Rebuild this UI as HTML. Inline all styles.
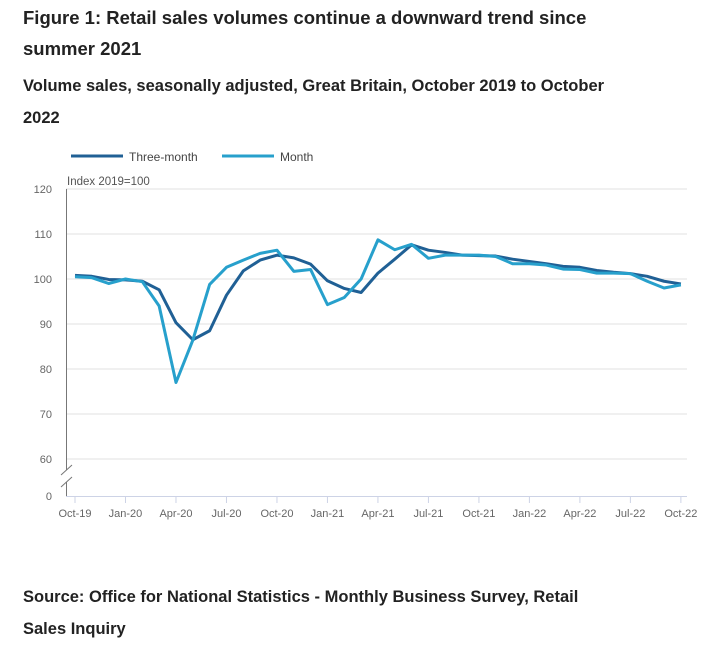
<!DOCTYPE html>
<html><head><meta charset="utf-8"><style>
body{margin:0;background:#fff;font-family:"Liberation Sans",sans-serif;color:#222;}
.t{position:absolute;left:23px;font-weight:bold;margin:0;}
</style></head><body>
<div style="position:relative;width:711px;height:653px;overflow:hidden">
<h1 class="t" style="top:2px;font-size:18.5px;line-height:31px;width:640px">Figure 1: Retail sales volumes continue a downward trend since summer 2021</h1>
<h2 class="t" style="top:70px;font-size:16.5px;line-height:32px;width:600px">Volume sales, seasonally adjusted, Great Britain, October 2019 to October 2022</h2>
<svg id="c" width="711" height="400" style="position:absolute;left:0;top:140px"></svg>
<p class="t" style="top:581px;font-size:16.5px;line-height:32px;width:600px">Source: Office for National Statistics - Monthly Business Survey, Retail Sales Inquiry</p>
</div>
<script>
const months=["Oct-19","Jan-20","Apr-20","Jul-20","Oct-20","Jan-21","Apr-21","Jul-21","Oct-21","Jan-22","Apr-22","Jul-22","Oct-22"];
const yTicks=[120,110,100,90,80,70,60];
const threeMonth=[100.8,100.6,99.9,99.8,99.5,97.6,90.3,86.5,88.5,96.4,101.8,104.2,105.3,104.7,103.3,99.6,97.9,97.0,101.3,104.4,107.6,106.4,105.9,105.3,105.2,105.1,104.4,103.9,103.4,102.8,102.6,101.9,101.5,101.2,100.6,99.5,98.9];
const month=[100.5,100.3,99.0,100.0,99.4,94.0,77.0,86.4,98.8,102.6,104.2,105.7,106.4,101.7,102.1,94.3,95.9,100.0,108.7,106.5,107.7,104.6,105.3,105.3,105.3,105.0,103.4,103.4,103.1,102.2,102.1,101.3,101.3,101.2,99.5,98.0,98.7];
const svg=document.getElementById('c');const NS='http://www.w3.org/2000/svg';
const OY=140;
function x(i){return 75+i*16.83;}
function y(v){return (v>=60?459-(v-60)*4.5:496)-OY;}
function mk(t,a,p){const e=document.createElementNS(NS,t);for(const k in a)e.setAttribute(k,a[k]);(p||svg).appendChild(e);return e;}
let l1=mk('line',{x1:71,y1:16,x2:123,y2:16,stroke:'#206095','stroke-width':3});


let t1=mk('text',{x:129,y:21,'font-size':12,fill:'#444'});t1.textContent='Three-month';


let l2=mk('line',{x1:222,y1:16,x2:274,y2:16,stroke:'#27a0cc','stroke-width':3});


let t2=mk('text',{x:280,y:21,'font-size':12,fill:'#444'});t2.textContent='Month';


yTicks.forEach(v=>{
 const g=mk('line',{x1:66,x2:687,y1:y(v),y2:y(v),stroke:'#e2e2e2'});
 
 
 const t=mk('text',{x:52,y:y(v)+4,'font-size':11,fill:'#666','text-anchor':'end'});t.textContent=v;
 
 
});
let z=mk('text',{x:52,y:500-OY,'font-size':11,fill:'#666','text-anchor':'end'});z.textContent='0';


let ya=mk('text',{x:67,y:185-OY,'font-size':11.5,fill:'#555'});ya.textContent='Index 2019=100';


let ax=mk('path',{d:`M66.5 ${189-OY}V${470-OY}M66.5 ${482-OY}V${496-OY}`,stroke:'#777',fill:'none'});


let br=mk('path',{d:`M61 ${475-OY}L72 ${465-OY}M61 ${487-OY}L72 ${477-OY}`,stroke:'#777',fill:'none'});


let xa=mk('line',{x1:66,x2:687,y1:496.5-OY,y2:496.5-OY,stroke:'#cdd3e6'});


months.forEach((m,k)=>{
 const tk=mk('line',{x1:x(k*3),x2:x(k*3),y1:497-OY,y2:503-OY,stroke:'#cdd3e6'});
 
 
 const t=mk('text',{x:x(k*3),y:517-OY,'font-size':11,fill:'#666','text-anchor':'middle'});t.textContent=m;
 
 
});
function line(d,c,n){const p=mk('polyline',{points:d.map((v,i)=>x(i)+','+y(v)).join(' '),fill:'none',stroke:c,'stroke-width':3,'stroke-linejoin':'round'});
 
 }
line(threeMonth,'#206095','three-month-line');
line(month,'#27a0cc','month-line');
</script>
</body></html>
